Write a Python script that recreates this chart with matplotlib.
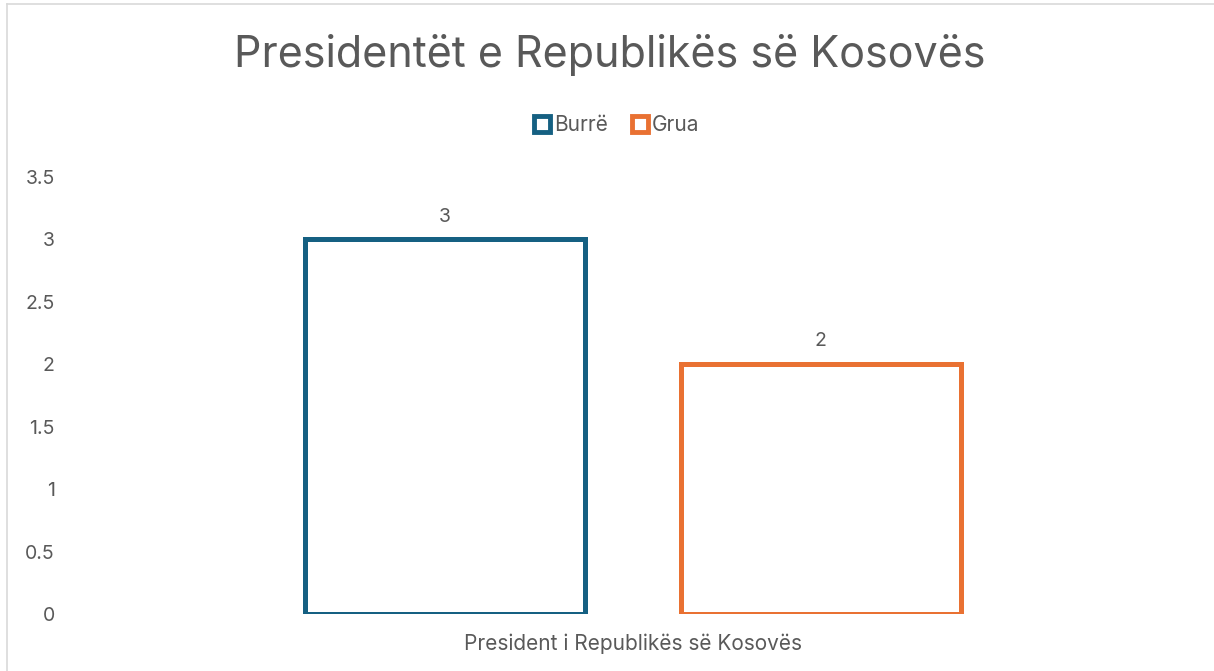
import matplotlib.pyplot as plt
from matplotlib.lines import Line2D

# --- Dados ---
categories = ["President i Republikës së Kosovës"]
series_names = ["Burrë", "Grua"]
series_values = [3, 2]
colors = ["#156082", "#E97132"]
yticks = [0, 0.5, 1, 1.5, 2, 2.5, 3, 3.5]

TEXT = "#595959"
plt.rcParams["font.family"] = ["Inter", "DejaVu Sans"]

fig = plt.figure(figsize=(12.14, 6.71), dpi=100)
ax = fig.add_axes([0.0577, 0.0849, 0.9273, 0.6513])

width = 0.249
offsets = [-0.167, 0.167]
for name, val, col, off in zip(series_names, series_values, colors, offsets):
    ax.bar(off, val, width=width, facecolor="white", edgecolor=col,
           linewidth=3.6, label=name)
    ax.annotate(f"{val}", (off, val), xytext=(0, 10), textcoords="offset points",
                ha="center", va="bottom", fontsize=14, color=TEXT)

ax.set_xlim(-0.5, 0.5)
ax.set_ylim(0, 3.5)
ax.set_yticks(yticks)
ax.set_yticklabels([f"{t:g}" for t in yticks], fontsize=14, color=TEXT)
ax.set_xticks([0])
ax.set_xticklabels(categories, fontsize=15, color=TEXT)
ax.tick_params(axis="both", length=0)
ax.tick_params(axis="y", pad=11)
ax.tick_params(axis="x", pad=14)
for s in ax.spines.values():
    s.set_visible(False)

fig.text(0.502, 0.918, "Presidentët e Republikës së Kosovës", ha="center",
         va="center", fontsize=31, color=TEXT)

handles = [Line2D([], [], marker="s", linestyle="none", markersize=12,
                  markerfacecolor="white", markeredgecolor=c, markeredgewidth=3.5)
           for c in colors]
fig.legend(handles, series_names, loc="center", bbox_to_anchor=(0.507, 0.813),
           ncol=2, frameon=False, fontsize=15, labelcolor=TEXT,
           handletextpad=0.1, columnspacing=1.0, handlelength=1.0)

# moldura do gráfico
fig.add_artist(Line2D([7 / 1214, 7 / 1214], [0, 1 - 4 / 671], color="#D9D9D9",
                      linewidth=1.2, transform=fig.transFigure))
fig.add_artist(Line2D([7 / 1214, 1], [1 - 4 / 671, 1 - 4 / 671], color="#D9D9D9",
                      linewidth=1.2, transform=fig.transFigure))

plt.savefig("out.png", dpi=100)
